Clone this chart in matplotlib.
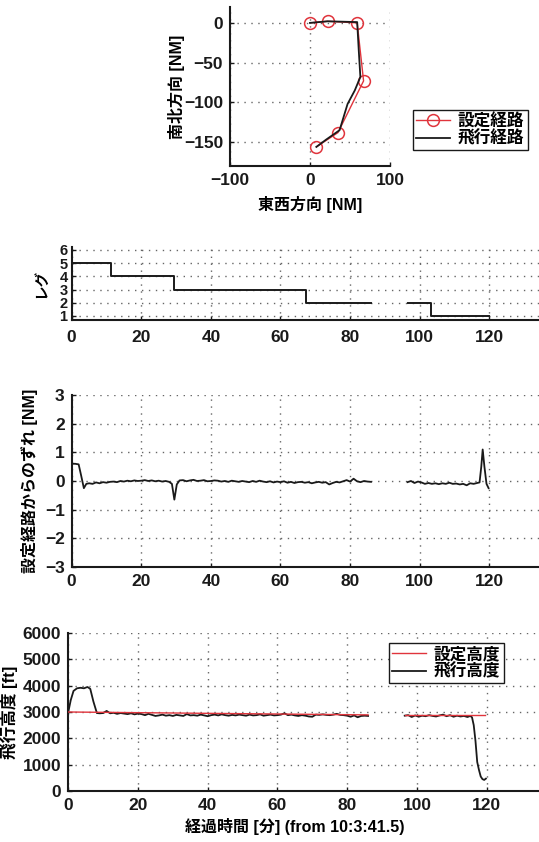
import matplotlib

matplotlib.use("Agg")
import matplotlib.pyplot as plt

plt.rcParams["font.family"] = ["Liberation Sans", "Noto Sans CJK JP", "DejaVu Sans"]
plt.rcParams["font.weight"] = "bold"

RED = "#e0343c"
INK = "#1a1a1a"
GRID = "#666666"

# --- panel 1: route (NM) ---
route_x = [0, 22, 59, 67, 35, 8]
route_y = [0, 2, 0, -73, -138, -156]
fly_x = [0, 22, 59, 61, 63, 56, 47, 37, 20, 8]
fly_y = [0, 2, 1, -35, -68, -85, -102, -135, -147, -156]

# --- panel 2: leg number ---
leg_t_a = [0, 11.3, 29.5, 67.3, 86]
leg_a = [5, 4, 3, 2, 2]
leg_t_b = [96.5, 103.3, 120]
leg_b = [2, 1, 1]

# --- panel 3: cross-track deviation (NM) ---
dev_t_a = [0, 1, 2, 2.7, 3.5, 4.2, 5, 6, 7, 8,
           9, 10, 11, 12, 13, 14, 15, 16, 17, 18,
           19, 20, 21, 22, 23, 24, 25, 26, 27, 28,
           28.8, 29.5, 30.2, 31, 32, 33, 34, 35, 36, 37,
           38, 39, 40, 41, 42, 43, 44, 45, 46, 47,
           48, 49, 50, 51, 52, 53, 54, 55, 56, 57,
           58, 59, 60, 61, 62, 63, 64, 65, 66, 67,
           68, 69, 70, 71, 72, 73, 74, 75, 76, 77,
           78, 79, 80, 81, 82, 83, 84, 85, 86]
dev_a = [0.6, 0.6, 0.58, 0.2, -0.25, -0.1, -0.08, -0.1, -0.05, -0.08,
         -0.04, -0.06, -0.03, -0.02, -0.04, 0.0, -0.02, 0.01, -0.01, 0.02,
         0.0, 0.01, 0.03, 0.0, 0.02, -0.01, 0.01, -0.02, 0.0, -0.03,
         -0.1, -0.65, -0.12, 0.02, 0.03, -0.01, 0.02, 0.04, 0.0, 0.01,
         0.03, -0.01, 0.0, 0.02, 0.01, -0.02, 0.0, -0.03, 0.01, -0.01,
         -0.03, 0.0, -0.02, -0.04, 0.0, -0.03, 0.01, -0.02, -0.04, -0.01,
         -0.05, -0.02, -0.04, -0.01, -0.06, -0.03, -0.07, -0.04, -0.03, -0.06,
         -0.04, -0.08, -0.05, -0.03, -0.06, -0.04, -0.12, -0.07, -0.03, -0.05,
         -0.01, 0.03, -0.02, 0.08, -0.01, -0.04, 0.0, -0.02, -0.03]
dev_t_b = [96.5, 97.5, 98.5, 99.5, 100.5, 101.5, 102.5, 103.5, 104.5, 105.5,
           106.5, 107.5, 108.5, 109.5, 110.5, 111.5, 112.5, 113.5, 114.5, 115.5,
           116.5, 117.2, 117.7, 118.1, 118.6, 119.2, 119.8]
dev_b = [-0.04, 0.0, -0.07, -0.02, -0.05, -0.1, -0.07, -0.1, -0.08, -0.11,
         -0.08, -0.1, -0.06, -0.1, -0.09, -0.12, -0.1, -0.15, -0.08, -0.1,
         -0.07, -0.05, 0.5, 1.1, 0.5, -0.1, -0.25]

# --- panel 4: altitude (ft) ---
alt_t_a = [0, 0.7, 1.5, 2.5, 3.5, 4.5, 5.5, 6.3, 7.2, 8.2,
           9, 10, 11, 12, 13, 14, 15, 16, 17, 18,
           19, 20, 21, 22, 23, 24, 25, 26, 27, 28,
           29, 30, 31, 32, 33, 34, 35, 36, 37, 38,
           39, 40, 41, 42, 43, 44, 45, 46, 47, 48,
           49, 50, 51, 52, 53, 54, 55, 56, 57, 58,
           59, 60, 61, 62, 63, 64, 65, 66, 67, 68,
           69, 70, 71, 72, 73, 74, 75, 76, 77, 78,
           79, 80, 81, 82, 83, 84, 85, 86]
alt_a = [3000, 3450, 3800, 3900, 3920, 3900, 3950, 3880, 3400, 2960,
         2950, 2960, 3040, 2950, 2970, 2930, 2960, 2940, 2920, 2950,
         2910, 2940, 2920, 2880, 2930, 2890, 2850, 2870, 2900, 2860,
         2880, 2850, 2890, 2870, 2850, 2920, 2870, 2880, 2860, 2900,
         2870, 2840, 2880, 2900, 2870, 2910, 2880, 2860, 2890, 2870,
         2900, 2880, 2860, 2900, 2870, 2880, 2910, 2860, 2880, 2900,
         2870, 2880, 2900, 2950, 2880, 2900, 2870, 2850, 2880, 2860,
         2830, 2820, 2900, 2890, 2910, 2890, 2880, 2900, 2930, 2890,
         2880, 2860, 2820, 2870, 2800, 2850, 2860, 2850]
alt_t_b = [96.5, 97.5, 98.5, 99.5, 100.5, 101.5, 102.5, 103.5, 104.5, 105.5,
           106.5, 107.5, 108.5, 109.5, 110.5, 111.5, 112.5, 113.5, 114.5, 115.3,
           115.8, 116.3, 116.8, 117.3, 117.8, 118.3, 118.8, 119.3, 119.8]
alt_b = [2860, 2880, 2810, 2870, 2820, 2860, 2840, 2880, 2850, 2830,
         2870, 2900, 2840, 2880, 2820, 2860, 2830, 2850, 2810, 2850,
         2800, 2500, 1900, 1100, 800, 550, 450, 420, 470]
set_t_a = [0, 86]
set_alt_a = [3000, 2890]
set_t_b = [96.5, 119.5]
set_alt_b = [2880, 2880]

time_ticks = [0, 20, 40, 60, 80, 100, 120]


def style(ax, tick_size=12.5):
    for side in ("top", "right"):
        ax.spines[side].set_visible(False)
    for side in ("left", "bottom"):
        ax.spines[side].set_linewidth(1.5)
        ax.spines[side].set_color(INK)
    ax.grid(True, linestyle=(0, (1, 4)), color=GRID, linewidth=1.0)
    ax.set_axisbelow(True)
    ax.tick_params(direction="in", length=3, width=1, labelsize=tick_size, pad=5, colors=INK)
    for lab in ax.get_xticklabels() + ax.get_yticklabels():
        lab.set_fontweight("bold")


def add_time_grid(ax):
    # grid continues past the last labelled tick, off to the right edge
    ax.axvline(140, linestyle=(0, (1, 4)), color=GRID, linewidth=1.0, zorder=0)


fig = plt.figure(figsize=(5.39, 8.42), dpi=100)
fig.patch.set_facecolor("white")
leg_kw = dict(loc="upper left", frameon=True, fancybox=False, edgecolor=INK, framealpha=1,
              borderpad=0.2, borderaxespad=0, handlelength=2.0, handletextpad=0.5,
              labelspacing=0.05, prop={"weight": "bold", "size": 12})

# panel 1
ax1 = fig.add_axes([0.4267, 0.8029, 0.2968, 0.1888])
ax1.plot(route_x, route_y, color=RED, lw=1.0, marker="o", ms=8.5,
         mfc="none", mec=RED, mew=1.1, label="設定経路", zorder=2)
ax1.plot(fly_x, fly_y, color=INK, lw=1.3, label="飛行経路", zorder=3)
ax1.set_xlim(-100, 100)
ax1.set_ylim(-180, 20)
ax1.set_xticks([-100, 0, 100])
ax1.set_yticks([-150, -100, -50, 0])
style(ax1)
ax1.set_xlabel("東西方向 [NM]", fontsize=11.5, fontweight="bold")
ax1.xaxis.set_label_coords(0.5, -0.19)
ax1.set_ylabel("南北方向 [NM]", fontsize=11.5, fontweight="bold")
ax1.yaxis.set_label_coords(-0.28, 0.5)
fig.legend(handles=ax1.get_lines(), bbox_to_anchor=(0.766, 0.8694), **leg_kw)

# panel 2
ax2 = fig.add_axes([0.133, 0.6200, 0.9039, 0.0867])
ax2.step(leg_t_a, leg_a, where="post", color=INK, lw=1.4)
ax2.step(leg_t_b, leg_b, where="post", color=INK, lw=1.4)
ax2.set_xlim(0, 140)
ax2.set_ylim(0.7, 6.23)
ax2.set_xticks(time_ticks)
ax2.set_yticks([1, 2, 3, 4, 5, 6])
style(ax2)
ax2.tick_params(axis="y", labelsize=10.5, pad=3)
ax2.tick_params(axis="x", pad=7)
add_time_grid(ax2)
ax2.set_ylabel("レグ", fontsize=10.5, fontweight="bold")
ax2.yaxis.set_label_coords(-0.049, 0.5)

# panel 3
ax3 = fig.add_axes([0.133, 0.3266, 0.9039, 0.2043])
ax3.plot(dev_t_a, dev_a, color=INK, lw=1.3)
ax3.plot(dev_t_b, dev_b, color=INK, lw=1.3)
ax3.set_xlim(0, 140)
ax3.set_ylim(-3, 3)
ax3.set_xticks(time_ticks)
ax3.set_yticks([-3, -2, -1, 0, 1, 2, 3])
style(ax3)
add_time_grid(ax3)
ax3.set_ylabel("設定経路からのずれ [NM]", fontsize=11.5, fontweight="bold")
ax3.yaxis.set_label_coords(-0.069, 0.5)

# panel 4
ax4 = fig.add_axes([0.1267, 0.0606, 0.9055, 0.1876])
l_set, = ax4.plot(set_t_a, set_alt_a, color=RED, lw=1.0, label="設定高度", zorder=3)
ax4.plot(set_t_b, set_alt_b, color=RED, lw=1.0, zorder=3)
l_fly, = ax4.plot(alt_t_a, alt_a, color=INK, lw=1.3, label="飛行高度", zorder=2)
ax4.plot(alt_t_b, alt_b, color=INK, lw=1.3, zorder=2)
ax4.set_xlim(0, 140)
ax4.set_ylim(0, 6000)
ax4.set_xticks(time_ticks)
ax4.set_yticks(range(0, 6001, 1000))
style(ax4)
add_time_grid(ax4)
ax4.set_ylabel("飛行高度 [ft]", fontsize=12, fontweight="bold")
ax4.yaxis.set_label_coords(-0.103, 0.5)
ax4.set_xlabel("経過時間 [分] (from 10:3:41.5)", fontsize=11.5, fontweight="bold")
ax4.xaxis.set_label_coords(0.4645, -0.17)
fig.legend(handles=[l_set, l_fly], bbox_to_anchor=(0.7217, 0.2363), **leg_kw)

fig.savefig("out.png", dpi=100, facecolor="white")
